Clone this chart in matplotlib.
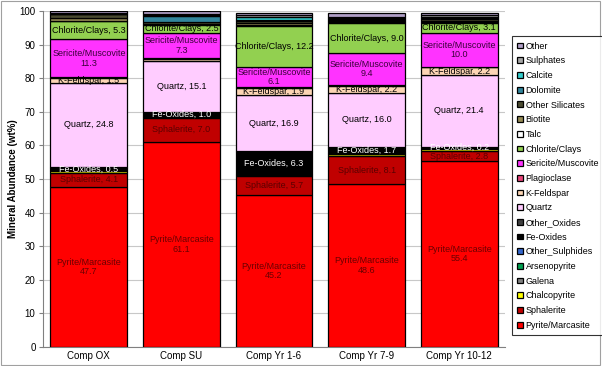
import matplotlib
matplotlib.use("Agg")
import matplotlib.pyplot as plt
import numpy as np
from matplotlib.patches import Rectangle

categories = ["Comp OX", "Comp SU", "Comp Yr 1-6", "Comp Yr 7-9", "Comp Yr 10-12"]

# bottom to top stacking order
pyrite        = [47.7, 61.1, 45.2, 48.6, 55.4]
sphalerite    = [4.1, 7.0, 5.7, 8.1, 2.8]
chalcopyrite  = [0.5, 0.4, 0.3, 0.6, 0.7]
galena        = [0.2, 0.1, 0.1, 0.1, 0.1]
arsenopyrite  = [0.1, 0.1, 0.1, 0.1, 0.1]
other_sulph   = [0.1, 0.1, 0.2, 0.1, 0.1]
fe_oxides     = [0.5, 1.0, 6.3, 1.7, 0.2]
other_oxides  = [0.5, 0.2, 0.3, 0.3, 0.2]
quartz        = [24.8, 15.1, 16.9, 16.0, 21.4]
k_feldspar    = [1.5, 0.7, 1.9, 2.2, 2.2]
plagioclase   = [0.3, 0.3, 0.3, 0.2, 0.2]
sericite      = [11.3, 7.3, 6.1, 9.4, 10.0]
chlorite      = [5.3, 2.5, 12.2, 9.0, 3.1]
talc          = [0.1, 0.1, 0.3, 0.2, 0.2]
biotite       = [1.0, 0.2, 0.5, 0.3, 0.3]
other_sil     = [1.0, 0.4, 0.6, 0.5, 0.6]
dolomite      = [0.2, 1.9, 0.4, 0.3, 0.4]
calcite       = [0.0, 0.2, 0.9, 0.2, 0.3]
sulphates     = [0.3, 0.4, 0.4, 0.4, 0.4]
other         = [0.4, 0.8, 0.6, 1.0, 0.8]

series_names = ["Pyrite/Marcasite", "Sphalerite", "Chalcopyrite", "Galena", "Arsenopyrite",
                "Other_Sulphides", "Fe-Oxides", "Other_Oxides", "Quartz", "K-Feldspar",
                "Plagioclase", "Sericite/Muscovite", "Chlorite/Clays", "Talc", "Biotite",
                "Other Silicates", "Dolomite", "Calcite", "Sulphates", "Other"]
series_vals = [pyrite, sphalerite, chalcopyrite, galena, arsenopyrite, other_sulph,
               fe_oxides, other_oxides, quartz, k_feldspar, plagioclase, sericite,
               chlorite, talc, biotite, other_sil, dolomite, calcite, sulphates, other]
colors = ["#FF0000", "#C00000", "#FFFF00", "#7F7F7F", "#00A050", "#3366CC",
          "#000000", "#404040", "#FFCCFF", "#FCD5B4", "#E8457A", "#FF33FF",
          "#92D050", "#FFFFFF", "#948A54", "#4A4A30", "#31859C", "#33CCCC",
          "#A6A6A6", "#B1A0C7"]

# labelled series: name -> (format, text colour)
labelled = {
    "Pyrite/Marcasite": ("{n}\n{v:.1f}", "#6B0000"),
    "Sphalerite": ("{n}, {v:.1f}", "#5A0000"),
    "Fe-Oxides": ("{n}, {v:.1f}", "white"),
    "Quartz": ("{n}, {v:.1f}", "black"),
    "K-Feldspar": ("{n}, {v:.1f}", "black"),
    "Sericite/Muscovite": ("{n}\n{v:.1f}", "#3A003A"),
    "Chlorite/Clays": ("{n}, {v:.1f}", "black"),
}
# labels hidden in the reference (too small to show)
hidden = {("K-Feldspar", "Comp SU")}

fig = plt.figure(figsize=(6.02, 3.66), dpi=100)
ax = fig.add_axes([0.0706, 0.0519, 0.7691, 0.9181])

x = np.arange(len(categories))
bottom = np.zeros(len(categories))
handles = []
for name, vals, c in zip(series_names, series_vals, colors):
    vals = np.array(vals, dtype=float)
    h = ax.bar(x, vals, bottom=bottom, width=0.83, color=c, edgecolor="black",
               linewidth=0.9, label=name, zorder=3)
    handles.append(h)
    if name in labelled:
        fmt, tc = labelled[name]
        for xi, cat, b, v in zip(x, categories, bottom, vals):
            if v > 0 and (name, cat) not in hidden:
                ax.text(xi, b + v / 2, fmt.format(n=name, v=v), ha="center", va="center",
                        fontsize=6.5, color=tc, zorder=5, linespacing=1.1,
                        family="Liberation Sans")
    bottom += vals

ax.set_xlim(-0.5, len(categories) - 0.5)
ax.set_ylim(0, 100)
ax.set_yticks(np.arange(0, 101, 10))
ax.set_xticks(x)
ax.set_xticklabels(categories, fontsize=7, family="Liberation Sans")
for lbl in ax.get_yticklabels():
    lbl.set_fontsize(7)
    lbl.set_family("Liberation Sans")
ax.tick_params(axis="x", length=0, pad=3)
ax.tick_params(axis="y", length=3, pad=2, color="#808080")
ax.yaxis.grid(True, color="#C8C8C8", linewidth=0.8, zorder=0)
ax.set_axisbelow(True)
for s in ["top", "right"]:
    ax.spines[s].set_visible(False)
ax.spines["left"].set_color("#808080")
ax.spines["bottom"].set_color("#808080")
ax.set_ylabel("Mineral Abundance (wt%)", fontsize=7, fontweight="bold",
              family="Liberation Sans", labelpad=1)

leg = fig.legend(handles[::-1], series_names[::-1], loc="upper left",
                 bbox_to_anchor=(0.843, 0.913), frameon=True,
                 fancybox=False, edgecolor="black", handlelength=0.6,
                 handleheight=0.6, handletextpad=0.3, labelspacing=0.63,
                 borderpad=0.6, prop={"family": "Liberation Sans", "size": 6.5})
leg.get_frame().set_linewidth(0.8)

fig.patches.append(Rectangle((0.002, 0.003), 0.995, 0.994, transform=fig.transFigure,
                             fill=False, edgecolor="#A0A0A0", linewidth=0.8))

fig.savefig("out.png", dpi=100)
